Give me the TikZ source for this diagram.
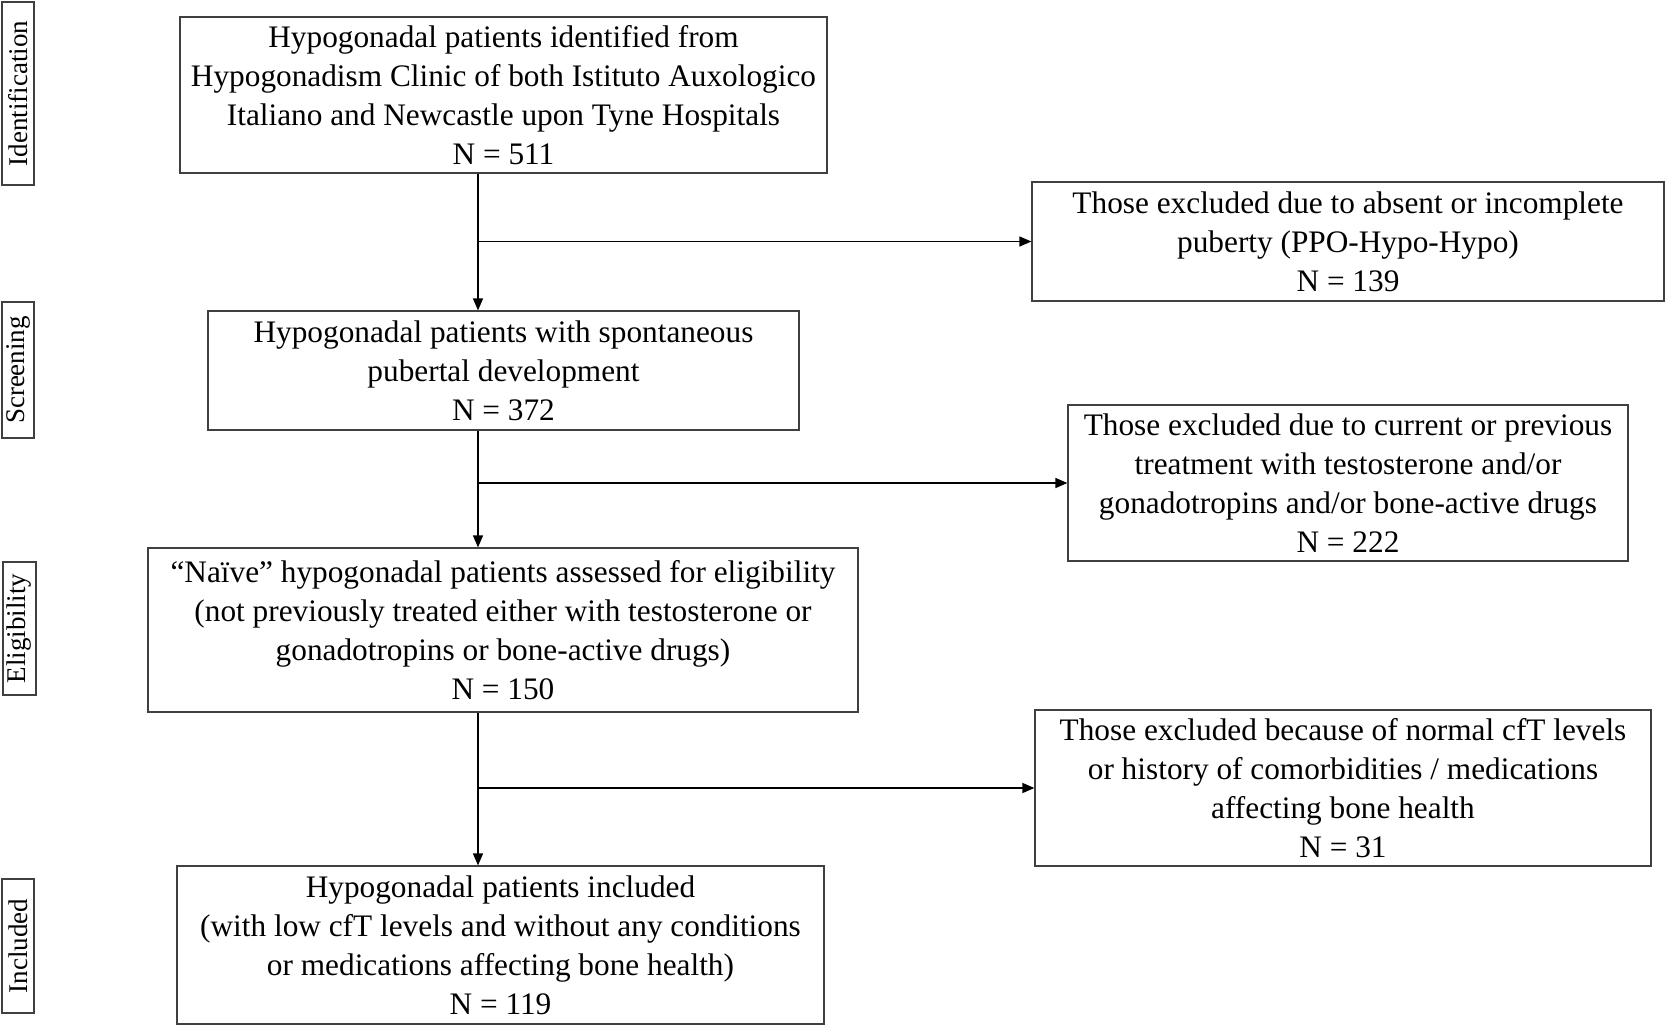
\documentclass[tikz,border=0pt]{standalone}
\usepackage{fontspec}
\setmainfont{Liberation Serif}
\usetikzlibrary{arrows.meta,calc}
\begin{document}
\begin{tikzpicture}[x=1pt,y=-1pt,
  box/.style={draw=black!75,line width=1.2pt,inner sep=0pt,align=center,font=\fontsize{31.3}{39}\selectfont},
  side/.style={draw=black!75,line width=1.1pt,inner sep=0pt,rotate=90,font=\fontsize{27}{29}\selectfont},
  arr/.style={line width=1.4pt,-{Triangle[length=12pt,width=10pt]}}]
\useasboundingbox (0,0) rectangle (1665,1029);
% side labels
\node[side,minimum width=183,minimum height=32] (s1) at (18,93.5) {Identification};
\node[side,minimum width=136,minimum height=32] (s2) at (18,370) {Screening};
\node[side,minimum width=133,minimum height=33] (s3) at (19.5,628.5) {Eligibility};
\node[side,minimum width=134,minimum height=32] (s4) at (18,946) {Included};
% main boxes
\node[box,minimum width=647,minimum height=156] (b1) at (503.5,95) {Hypogonadal patients identified from\\Hypogonadism Clinic of both Istituto Auxologico\\Italiano and Newcastle upon Tyne Hospitals\\N = 511};
\node[box,minimum width=591,minimum height=119] (b2) at (503.5,370.5) {Hypogonadal patients with spontaneous\\pubertal development\\N = 372};
\node[box,minimum width=710,minimum height=164] (b3) at (503,630) {“Naïve” hypogonadal patients assessed for eligibility\\(not previously treated either with testosterone or\\gonadotropins or bone-active drugs)\\N = 150};
\node[box,minimum width=647,minimum height=158] (b4) at (500.5,945) {Hypogonadal patients included\\(with low cfT levels and without any conditions\\or medications affecting bone health)\\N = 119};
% exclusion boxes
\node[box,minimum width=632,minimum height=119] (r1) at (1348,241.5) {Those excluded due to absent or incomplete\\puberty (PPO-Hypo-Hypo)\\N = 139};
\node[box,minimum width=560,minimum height=156] (r2) at (1348,483) {Those excluded due to current or previous\\treatment with testosterone and/or\\gonadotropins and/or bone-active drugs\\N = 222};
\node[box,minimum width=616,minimum height=156] (r3) at (1343,788) {Those excluded because of normal cfT levels\\or history of comorbidities / medications\\affecting bone health\\N = 31};
% connectors
\coordinate (xa) at (478,0);
\draw[arr] (b1.south -| xa) -- (b2.north -| xa);
\draw[arr] (b2.south -| xa) -- (b3.north -| xa);
\draw[arr] (b3.south -| xa) -- (b4.north -| xa);
\draw[arr] (xa |- r1.west) -- (r1.west);
\draw[arr] (xa |- r2.west) -- (r2.west);
\draw[arr] (xa |- r3.west) -- (r3.west);
\end{tikzpicture}
\end{document}
